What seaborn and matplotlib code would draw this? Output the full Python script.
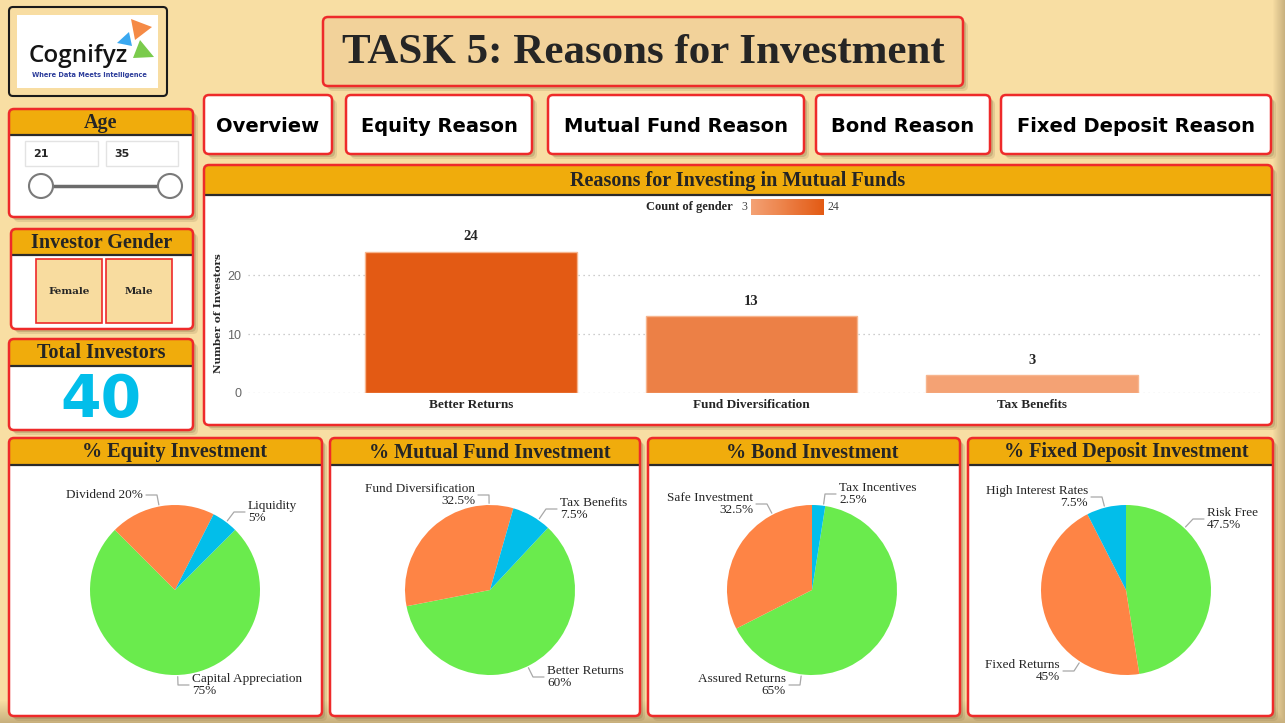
"""Recreate the Cognifyz 'Reasons for Investment' dashboard."""

import numpy as np
import pandas as pd
import seaborn as sns
from matplotlib import pyplot as plt
from matplotlib.colors import LinearSegmentedColormap, Normalize
from matplotlib.patches import Circle, FancyBboxPatch, Polygon, Rectangle

W, H = 1285, 723

# --- data -------------------------------------------------------------
NAV_BUTTONS = ["Overview", "Equity Reason", "Mutual Fund Reason",
               "Bond Reason", "Fixed Deposit Reason"]
AGE_RANGE = [21, 35]
GENDERS = ["Female", "Male"]
TOTAL_INVESTORS = 40

MF_REASONS = ["Better Returns", "Fund Diversification", "Tax Benefits"]
MF_COUNTS = [24, 13, 3]

EQUITY_LABELS = ["Capital Appreciation", "Dividend", "Liquidity"]
EQUITY_PCT = [75, 20, 5]
MUTUAL_LABELS = ["Better Returns", "Fund Diversification", "Tax Benefits"]
MUTUAL_PCT = [60, 32.5, 7.5]
BOND_LABELS = ["Assured Returns", "Safe Investment", "Tax Incentives"]
BOND_PCT = [65, 32.5, 2.5]
FD_LABELS = ["Risk Free", "Fixed Returns", "High Interest Rates"]
FD_PCT = [47.5, 45, 7.5]

# --- style ------------------------------------------------------------
RED = "#EE2A2A"
HEADER = "#F0AC0C"
TEXT = "#252525"
PIE_COLORS = ["#6AEB4D", "#FE8445", "#02BEEA"]
SERIF = ["Liberation Serif", "DejaVu Serif"]

sns.set_theme(style="white")
plt.rcParams["font.family"] = SERIF


def fig_box(x0, y0, x1, y1):
    return [x0 / W, 1 - y1 / H, (x1 - x0) / W, (y1 - y0) / H]


fig = plt.figure(figsize=(W / 100, H / 100), dpi=100)
bg = fig.add_axes([0, 0, 1, 1])
bg.set_xlim(0, W)
bg.set_ylim(H, 0)
bg.axis("off")

# background with a darker rim towards the bottom / right
yy, xx = np.mgrid[0:H, 0:W]
rim = np.clip(np.maximum((yy - 700) / 23, (xx - 1272) / 13), 0, 1)
base = np.array([248, 222, 163]) / 255
dark = np.array([198, 174, 124]) / 255
img = base + rim[..., None] * (dark - base)
bg.imshow(img, extent=[0, W, H, 0], aspect="auto", zorder=0)


def box(x0, y0, x1, y1, face="white", edge=RED, lw=1.8, r=5, shadow=True, z=2):
    style = f"round,pad=0,rounding_size={r}"
    if shadow:
        for off, alpha in [(5, 0.18), (3, 0.3)]:
            bg.add_patch(FancyBboxPatch((x0 + off, y0 + off), x1 - x0, y1 - y0,
                                        boxstyle=style, fc="#8C7448", ec="none",
                                        alpha=alpha, zorder=z - 0.5))
    p = FancyBboxPatch((x0, y0), x1 - x0, y1 - y0, boxstyle=style,
                       fc=face, ec=edge, lw=lw, zorder=z)
    bg.add_patch(p)
    return p


def panel(x0, y0, x1, y1, title, hh=27, size=14.5, tx=None):
    p = box(x0, y0, x1, y1, edge="none")
    hdr = Rectangle((x0, y0), x1 - x0, hh, fc=HEADER, ec="none", zorder=2.1)
    bg.add_patch(hdr)
    hdr.set_clip_path(p)
    bg.plot([x0 + 1, x1 - 1], [y0 + hh, y0 + hh], color="#2B2B2B", lw=1.6,
            zorder=2.2, solid_capstyle="butt")
    bg.add_patch(FancyBboxPatch((x0, y0), x1 - x0, y1 - y0,
                                boxstyle="round,pad=0,rounding_size=5",
                                fc="none", ec=RED, lw=1.8, zorder=2.3))
    bg.text((x0 + x1) / 2 if tx is None else tx, y0 + hh / 2 + 1, title,
            ha="center", va="center", fontsize=size, fontweight="bold",
            color=TEXT, zorder=3)


# --- logo ---------------------------------------------------------------
box(9, 7, 167, 96, face="#F8DDA2", edge="#1A1A1A", lw=1.5, r=4, shadow=False)
bg.add_patch(Rectangle((17, 15), 141, 73, fc="white", ec="none", zorder=2.5))
bg.text(29, 56, "Cognifyz", fontsize=17.5, family="Open Sans", fontweight="semibold",
        color="#141414", va="center", zorder=3)
bg.text(32, 75, "Where Data Meets Intelligence", fontsize=4.8, family="DejaVu Sans",
        fontweight="bold", color="#2D3D9B", va="center", zorder=3)
for pts, c in [([(131, 19), (152, 27), (135, 40)], "#F58A45"),
               ([(117, 43), (129, 32), (132, 46)], "#3AA8F0"),
               ([(133, 58), (140, 40), (154, 57)], "#7ACB4C")]:
    bg.add_patch(Polygon(pts, closed=True, fc=c, ec="none", zorder=3))

# --- title ----------------------------------------------------------------
box(323, 17, 963, 86, face="#F2D29A", edge=RED, lw=1.8)
bg.text(643, 53, "TASK 5: Reasons for Investment", ha="center", va="center",
        fontsize=31, fontweight="bold", color=TEXT, zorder=3)

# --- navigation buttons ---------------------------------------------------
nav_x = [(204, 332), (346, 532), (548, 804), (816, 990), (1001, 1271)]
for (x0, x1), name in zip(nav_x, NAV_BUTTONS):
    box(x0, 95, x1, 154, lw=1.8)
    bg.text((x0 + x1) / 2, 126, name, ha="center", va="center", fontsize=14,
            family="DejaVu Sans", fontweight="bold", color="black", zorder=3)

# --- age slicer -------------------------------------------------------------
panel(9, 109, 193, 217, "Age", hh=26)
for (x0, x1), val in zip([(25, 98), (106, 178)], AGE_RANGE):
    bg.add_patch(Rectangle((x0, 141), x1 - x0, 25, fc="white", ec="#E3E3E3",
                           lw=1, zorder=3))
    bg.text(x0 + 8, 154, str(val), va="center", fontsize=8, family="DejaVu Sans",
            fontweight="bold", color=TEXT, zorder=4)
bg.plot([41, 170], [186, 186], color="#6B6B6B", lw=2.5, zorder=3)
for cx in (41, 170):
    bg.add_patch(Circle((cx, 186), 12, fc="white", ec="#7A7A7A", lw=1.5, zorder=4))

# --- gender slicer ----------------------------------------------------------
panel(11, 229, 193, 329, "Investor Gender", hh=26)
for (x0, x1), g in zip([(36, 102), (106, 172)], GENDERS):
    bg.add_patch(Rectangle((x0, 259), x1 - x0, 64, fc="#F8DC9F", ec=RED,
                           lw=1.2, zorder=3))
    bg.text((x0 + x1) / 2, 291, g, ha="center", va="center", fontsize=7.5,
            family="DejaVu Serif", fontweight="bold", color=TEXT, zorder=4)

# --- total investors card ---------------------------------------------------
panel(9, 339, 193, 430, "Total Investors", hh=27)
bg.text(101, 401, str(TOTAL_INVESTORS), ha="center", va="center", fontsize=42,
        family="DejaVu Sans", fontweight="heavy", color="#02BEEA", zorder=4)

# --- mutual fund bar chart --------------------------------------------------
panel(204, 165, 1272, 425, "Reasons for Investing in Mutual Funds", hh=30)

cmap = LinearSegmentedColormap.from_list("cnt", ["#F4A274", "#E35A14"])
norm = Normalize(min(MF_COUNTS), max(MF_COUNTS))
df = pd.DataFrame({"reason": MF_REASONS, "count": MF_COUNTS})
palette = {r: cmap(norm(c)) for r, c in zip(MF_REASONS, MF_COUNTS)}

bax = fig.add_axes(fig_box(248, 228, 1263, 393))
bax.patch.set_alpha(0)
sns.barplot(data=df, x="reason", y="count", hue="reason", palette=palette,
            saturation=1, legend=False, width=0.755, edgecolor="#F7B58E",
            linewidth=1, ax=bax)
bax.set_xlim(-0.795, 2.823)
bax.set_ylim(0, 28)
bax.set_yticks([0, 10, 20])
bax.yaxis.grid(True, linestyle=(0, (1, 3)), color="#BDBDBD", lw=0.9)
bax.set_axisbelow(True)
sns.despine(ax=bax, left=True, bottom=True)
bax.tick_params(axis="y", length=0, pad=5, labelsize=9, labelcolor="#666666")
for t in bax.get_yticklabels():
    t.set_family("Liberation Sans")
bax.tick_params(axis="x", length=0, pad=4)
for t in bax.get_xticklabels():
    t.set_fontweight("bold")
    t.set_fontsize(9.5)
    t.set_color(TEXT)
bax.set_xlabel("")
bax.set_ylabel("Number of Investors", family="DejaVu Serif", fontweight="bold",
               fontsize=7.5, color=TEXT)
bax.yaxis.set_label_coords(-0.025, 0.485)
for cont in bax.containers:
    bax.bar_label(cont, padding=6, fontsize=10.5, fontweight="bold", color=TEXT)

# colour legend
bg.text(733, 207, "Count of gender", ha="right", va="center", fontsize=9,
        fontweight="bold", color=TEXT, zorder=4)
bg.text(741, 207, str(min(MF_COUNTS)), ha="left", va="center", fontsize=8.5,
        color="#444444", zorder=4)
bg.text(827, 207, str(max(MF_COUNTS)), ha="left", va="center", fontsize=8.5,
        color="#444444", zorder=4)
lax = fig.add_axes(fig_box(751, 199, 823, 215))
lax.imshow(cmap(np.linspace(0, 1, 128))[None, :, :], aspect="auto")
lax.axis("off")

# --- pies -------------------------------------------------------------------
R = 85
pies = [
    dict(box=(9, 322), c=(175, 590), title="% Equity Investment",
         labels=EQUITY_LABELS, pct=EQUITY_PCT, start=45,
         text=[(192, 685, "left"), (143, 495, "right"), (248, 512, "left")],
         one_line=[False, True, False]),
    dict(box=(330, 640), c=(490, 590), title="% Mutual Fund Investment",
         labels=MUTUAL_LABELS, pct=MUTUAL_PCT, start=47,
         text=[(547, 677, "left"), (475, 495, "right"), (560, 509, "left")],
         one_line=[False, False, False]),
    dict(box=(648, 960), c=(812, 590), title="% Bond Investment",
         labels=BOND_LABELS, pct=BOND_PCT, start=81,
         text=[(786, 685, "right"), (753, 504, "right"), (839, 494, "left")],
         one_line=[False, False, False]),
    dict(box=(968, 1273), c=(1126, 590), title="% Fixed Deposit Investment",
         labels=FD_LABELS, pct=FD_PCT, start=90,
         text=[(1207, 519, "left"), (1060, 671, "right"), (1088, 497, "right")],
         one_line=[False, False, False]),
]

for p in pies:
    x0, x1 = p["box"]
    cx, cy = p["c"]
    panel(x0, 438, x1, 716, p["title"], hh=27, tx=cx)
    pax = fig.add_axes(fig_box(cx - R, cy - R, cx + R, cy + R))
    pax.pie(p["pct"], colors=PIE_COLORS, startangle=p["start"], counterclock=False,
            radius=1, wedgeprops=dict(linewidth=0))
    pax.set_xlim(-1, 1)
    pax.set_ylim(-1, 1)
    pax.set_aspect("equal")
    pax.axis("off")
    for (tx, ty, ha), name, pct, one in zip(p["text"], p["labels"], p["pct"],
                                           p["one_line"]):
        label = f"{name} {pct:g}%" if one else f"{name}\n{pct:g}%"
        bg.text(tx, ty, label, ha=ha, va="center", fontsize=9.5, color=TEXT,
                linespacing=0.95, zorder=4, multialignment=ha)
        sgn = -1 if ha == "left" else 1
        e0 = tx + sgn * 3
        e1 = e0 + sgn * 11
        v = np.array([e1 - cx, ty - cy], dtype=float)
        ax_, ay_ = np.array([cx, cy]) + R * 1.02 * v / np.linalg.norm(v)
        bg.plot([e0, e1, ax_], [ty, ty, ay_], color="#A8A8A8", lw=0.9, zorder=4)

fig.savefig("out.png", dpi=100)
